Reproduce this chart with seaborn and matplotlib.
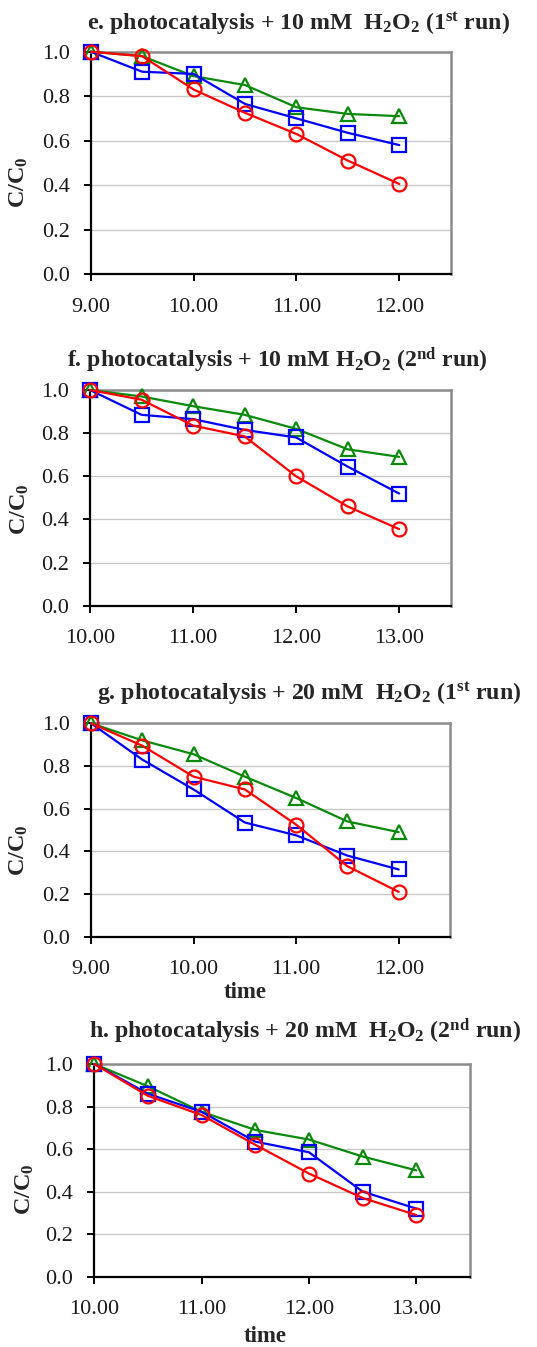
import matplotlib
matplotlib.use("Agg")
import matplotlib.pyplot as plt
import seaborn as sns
import pandas as pd

sns.set_theme(style="white")
plt.rcParams["font.family"] = ["Liberation Serif", "DejaVu Serif"]
plt.rcParams["mathtext.fontset"] = "custom"
plt.rcParams["mathtext.rm"] = "Liberation Serif"
plt.rcParams["mathtext.bf"] = "Liberation Serif:bold"
plt.rcParams["mathtext.it"] = "Liberation Serif:italic"

# ---- data -------------------------------------------------------------
time_e = [9.0, 9.5, 10.0, 10.5, 11.0, 11.5, 12.0]
green_e = [1.00, 0.98, 0.89, 0.85, 0.75, 0.72, 0.71]
blue_e = [1.00, 0.91, 0.90, 0.765, 0.70, 0.635, 0.58]
red_e = [1.00, 0.98, 0.83, 0.725, 0.63, 0.51, 0.405]

time_f = [10.0, 10.5, 11.0, 11.5, 12.0, 12.5, 13.0]
green_f = [1.00, 0.97, 0.925, 0.885, 0.82, 0.725, 0.69]
blue_f = [1.00, 0.885, 0.865, 0.815, 0.78, 0.645, 0.52]
red_f = [1.00, 0.955, 0.835, 0.785, 0.60, 0.46, 0.355]

time_g = [9.0, 9.5, 10.0, 10.5, 11.0, 11.5, 12.0]
green_g = [1.00, 0.92, 0.855, 0.75, 0.65, 0.54, 0.49]
blue_g = [1.00, 0.83, 0.69, 0.535, 0.475, 0.38, 0.315]
red_g = [1.00, 0.895, 0.75, 0.69, 0.525, 0.33, 0.21]

time_h = [10.0, 10.5, 11.0, 11.5, 12.0, 12.5, 13.0]
green_h = [1.00, 0.895, 0.775, 0.69, 0.645, 0.565, 0.50]
blue_h = [1.00, 0.86, 0.775, 0.635, 0.585, 0.40, 0.32]
red_h = [1.00, 0.85, 0.76, 0.62, 0.485, 0.37, 0.29]

x_ticks_a = [9.0, 10.0, 11.0, 12.0]
x_ticks_b = [10.0, 11.0, 12.0, 13.0]
y_ticks = [0.0, 0.2, 0.4, 0.6, 0.8, 1.0]

titles = [
    r"e. photocatalysis + 10 mM  H$_\mathbf{2}$O$_\mathbf{2}$ (1$^\mathbf{st}$ run)",
    r"f. photocatalysis + 10 mM H$_\mathbf{2}$O$_\mathbf{2}$ (2$^\mathbf{nd}$ run)",
    r"g. photocatalysis + 20 mM  H$_\mathbf{2}$O$_\mathbf{2}$ (1$^\mathbf{st}$ run)",
    r"h. photocatalysis + 20 mM  H$_\mathbf{2}$O$_\mathbf{2}$ (2$^\mathbf{nd}$ run)",
]

GREEN = "#0a8a0a"
BLUE = "#0000ff"
RED = "#ff0000"

W, H = 537, 1347
fig = plt.figure(figsize=(W / 100, H / 100), dpi=100)


def px_axes(left, top, right, bottom):
    return fig.add_axes([left / W, 1 - bottom / H, (right - left) / W, (bottom - top) / H])


panels = [
    dict(box=(90.7, 51.7, 450.7, 274.0), t=time_e, g=green_e, b=blue_e, r=red_e,
         xt=x_ticks_a, xlim=(9.0, 12.5), title_xy=(298, 30), ylab_xy=(19, 182), xlabel=None),
    dict(box=(90.0, 390.0, 450.7, 605.7), t=time_f, g=green_f, b=blue_f, r=red_f,
         xt=x_ticks_b, xlim=(10.0, 13.5), title_xy=(277, 367), ylab_xy=(20, 509), xlabel=None),
    dict(box=(91.0, 723.3, 450.0, 936.7), t=time_g, g=green_g, b=blue_g, r=red_g,
         xt=x_ticks_a, xlim=(9.0, 12.5), title_xy=(309, 700), ylab_xy=(19, 850),
         xlabel=(245, 993)),
    dict(box=(94.3, 1064.0, 470.0, 1276.7), t=time_h, g=green_h, b=blue_h, r=red_h,
         xt=x_ticks_b, xlim=(10.0, 13.5), title_xy=(305, 1038), ylab_xy=(25, 1189),
         xlabel=(265, 1337)),
]

for p, title in zip(panels, titles):
    ax = px_axes(*p["box"])
    series = [(p["g"], GREEN, "^"), (p["b"], BLUE, "s"), (p["r"], RED, "o")]
    for vals, col, mk in series:
        df = pd.DataFrame({"time": p["t"], "C/C0": vals})
        sns.lineplot(data=df, x="time", y="C/C0", ax=ax, color=col, lw=1.6,
                     marker=mk, markersize=10, mfc="none", mec=col, mew=1.6,
                     clip_on=False, zorder=3)
    ax.set_xlim(*p["xlim"])
    ax.set_ylim(0, 1.0)
    ax.set_xticks(p["xt"])
    ax.set_xticklabels([f"{v:.2f}" for v in p["xt"]])
    ax.set_yticks(y_ticks)
    ax.set_yticklabels([f"{v:.1f}" for v in y_ticks])
    ax.set_xlabel("")
    ax.set_ylabel("")
    ax.yaxis.grid(True, color="#c8c8c8", lw=1.0)
    ax.xaxis.grid(False)
    ax.set_axisbelow(True)
    for side in ("left", "bottom"):
        ax.spines[side].set_color("black")
        ax.spines[side].set_linewidth(1.6)
    for side in ("top", "right"):
        ax.spines[side].set_color("#8c8c8c")
        ax.spines[side].set_linewidth(1.8)
    ax.tick_params(axis="both", direction="out", length=5, width=1.4, color="black",
                   labelsize=16, labelcolor="#1a1a1a", pad=10)
    ax.tick_params(axis="x", pad=12)
    ax.tick_params(left=True, bottom=True)

    fig.text(p["title_xy"][0] / W, 1 - p["title_xy"][1] / H, title, ha="center",
             va="baseline", fontsize=17.2, fontweight="bold")
    fig.text(p["ylab_xy"][0] / W, 1 - p["ylab_xy"][1] / H, r"C/C$_\mathbf{0}$",
             rotation=90, ha="center", va="center", fontsize=17.5, fontweight="bold")
    if p["xlabel"] is not None:
        fig.text(p["xlabel"][0] / W, 1 - p["xlabel"][1] / H, "time", ha="center",
                 va="center", fontsize=16.5, fontweight="bold")

fig.savefig("out.png", dpi=100)
